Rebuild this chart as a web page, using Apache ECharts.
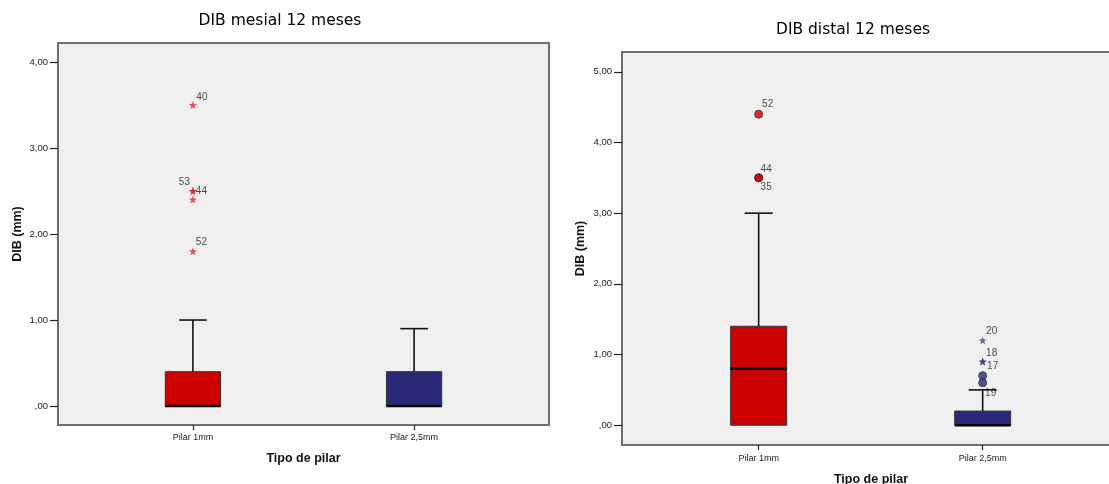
<!DOCTYPE html>
<html>
<head>
<meta charset="utf-8">
<script src="https://cdn.jsdelivr.net/npm/echarts@6/dist/echarts.min.js"></script>
<style>
  html, body { margin: 0; padding: 0; background: #ffffff; }
  #chart { width: 1109px; height: 484px; }
</style>
</head>
<body>
<div id="chart"></div>
<script>
// Abutment types on the category axis
const categories = ['Pilar 1mm', 'Pilar 2,5mm'];
const boxColors = ['#cc0000', '#292977'];

// Five-number summaries per abutment: [min, Q1, median, Q3, max]
const mesialStats = [[0, 0, 0, 0.4, 1.0], [0, 0, 0, 0.4, 0.9]];
const distalStats = [[0, 0, 0.8, 1.4, 3.0], [0, 0, 0, 0.2, 0.5]];

// Individual cases beyond the whiskers: [category index, value, case id]
const mesialExtremes = [[0, 3.5, '40'], [0, 2.5, '53'], [0, 2.5, '44'], [0, 2.4, ''], [0, 1.8, '52']];
const distalOutliers = [[0, 4.4, '52'], [0, 3.5, '44'], [0, 3.5, '35'], [1, 0.7, ''], [1, 0.6, '19']];
const distalExtremes = [[1, 1.2, '20'], [1, 0.9, '18'], [1, 0.9, '17']];

// Y tick values
const mesialTicks = [0, 1, 2, 3, 4];
const distalTicks = [0, 1, 2, 3, 4, 5];

// Where each case id label sits relative to its marker
const mesialLabelOffset = { '40': [9, -8], '53': [-8.5, -8.5], '44': [8.5, 0.5], '52': [8.5, -8.5] };
const distalCircleOffset = { '52': [9, -10], '44': [7.5, -9], '35': [7.5, 9.5], '19': [8, 10.5] };
const distalStarOffset = { '20': [9, -9.5], '18': [9, -8.5], '17': [10, 4.5] };

const STAR = 'path://M0,-10 L2.35,-3.24 L9.51,-3.09 L3.8,1.24 L5.88,8.09 L0,4 L-5.88,8.09 L-3.8,1.24 L-9.51,-3.09 L-2.35,-3.24 Z';
const FONT = 'Liberation Sans, Arial, sans-serif';

const fmtComma = v => (v === 0 ? ',00' : v.toFixed(2).replace('.', ','));

function renderBox(params, api) {
  const x = api.value(0);
  const mn = api.value(1), q1 = api.value(2), md = api.value(3), q3 = api.value(4), mx = api.value(5);
  const w = api.size([0.25, 0])[0];
  const cx = api.coord([x, 0])[0];
  const y = v => api.coord([x, v])[1];
  const lineStyle = { stroke: '#111', lineWidth: 1.6 };
  const children = [];
  if (mx > q3) {
    children.push({ type: 'line', shape: { x1: cx, y1: y(q3), x2: cx, y2: y(mx) }, style: lineStyle });
    children.push({ type: 'line', shape: { x1: cx - w / 4, y1: y(mx), x2: cx + w / 4, y2: y(mx) }, style: lineStyle });
  }
  if (mn < q1) {
    children.push({ type: 'line', shape: { x1: cx, y1: y(q1), x2: cx, y2: y(mn) }, style: lineStyle });
    children.push({ type: 'line', shape: { x1: cx - w / 4, y1: y(mn), x2: cx + w / 4, y2: y(mn) }, style: lineStyle });
  }
  children.push({
    type: 'rect',
    shape: { x: cx - w / 2, y: y(q3), width: w, height: y(q1) - y(q3) },
    style: { fill: boxColors[params.dataIndex], stroke: '#333', lineWidth: 1 }
  });
  children.push({
    type: 'line',
    shape: { x1: cx - w / 2, y1: y(md), x2: cx + w / 2, y2: y(md) },
    style: { stroke: '#000', lineWidth: 2.5 }
  });
  return { type: 'group', children };
}

function pointData(rows, offsets) {
  return rows.map(r => ({
    value: [r[0], r[1]],
    name: r[2],
    label: { offset: offsets[r[2]] || [0, 0] }
  }));
}

function xAxisFor(gridIndex, maxV, margin, nameGap) {
  return {
    type: 'value', gridIndex, min: -0.61, max: maxV,
    name: 'Tipo de pilar', nameLocation: 'middle', nameGap,
    nameTextStyle: { fontFamily: FONT, fontWeight: 'bold', fontSize: 12.5, color: '#111' },
    axisLine: { show: false, onZero: false },
    splitLine: { show: false },
    axisTick: { show: true, length: 5, customValues: [0, 1], lineStyle: { color: '#222', width: 1.2 } },
    axisLabel: {
      customValues: [0, 1], margin, fontFamily: FONT, fontSize: 9, color: '#222',
      formatter: v => categories[Math.round(v)]
    }
  };
}

function yAxisFor(gridIndex, minV, maxV, ticks, nameGap) {
  return {
    type: 'value', gridIndex, min: minV, max: maxV,
    name: 'DIB (mm)', nameLocation: 'middle', nameGap,
    nameTextStyle: { fontFamily: FONT, fontWeight: 'bold', fontSize: 12.5, color: '#111' },
    axisLine: { show: false, onZero: false },
    splitLine: { show: false },
    axisTick: { show: true, length: 8, customValues: ticks, lineStyle: { color: '#222', width: 1.2 } },
    axisLabel: { customValues: ticks, margin: 10, fontFamily: FONT, fontSize: 9.5, color: '#222', formatter: fmtComma }
  };
}

const labelBase = {
  show: true, position: 'inside', formatter: p => p.name,
  fontFamily: FONT, fontSize: 10, color: '#222', align: 'center', verticalAlign: 'middle'
};

const titleStyle = { fontFamily: 'DejaVu Sans, sans-serif', fontWeight: 'normal', fontSize: 15.5, color: '#000' };

const option = {
  backgroundColor: '#ffffff',
  animation: false,
  title: [
    { text: 'DIB mesial 12 meses', left: 275, top: 8, textAlign: 'center', textStyle: titleStyle },
    { text: 'DIB distal 12 meses', left: 848, top: 17, textAlign: 'center', textStyle: titleStyle }
  ],
  grid: [
    { left: 58, top: 43, width: 491, height: 382, outerBoundsMode: 'none', containLabel: false,
      show: true, backgroundColor: '#f0f0f0', borderColor: '#6f6f6f', borderWidth: 2 },
    { left: 622, top: 52, width: 498, height: 393, outerBoundsMode: 'none', containLabel: false,
      show: true, backgroundColor: '#f0f0f0', borderColor: '#6f6f6f', borderWidth: 2 }
  ],
  xAxis: [xAxisFor(0, 1.61, 8, 27), xAxisFor(1, 1.613, 9, 28)],
  yAxis: [yAxisFor(0, -0.22, 4.22, mesialTicks, 34), yAxisFor(1, -0.28, 5.28, distalTicks, 35)],
  series: [
    {
      type: 'custom', xAxisIndex: 0, yAxisIndex: 0,
      data: mesialStats.map((s, i) => [i].concat(s)),
      encode: { x: 0, y: [1, 2, 3, 4, 5] },
      renderItem: renderBox, z: 2
    },
    {
      type: 'custom', xAxisIndex: 1, yAxisIndex: 1,
      data: distalStats.map((s, i) => [i].concat(s)),
      encode: { x: 0, y: [1, 2, 3, 4, 5] },
      renderItem: renderBox, z: 2
    },
    {
      type: 'scatter', xAxisIndex: 0, yAxisIndex: 0,
      symbol: STAR, symbolSize: 8,
      itemStyle: { color: '#e3232b' },
      label: labelBase,
      data: pointData(mesialExtremes, mesialLabelOffset), z: 5
    },
    {
      type: 'scatter', xAxisIndex: 1, yAxisIndex: 1,
      symbol: 'circle', symbolSize: 8,
      itemStyle: { color: (p) => boxColors[p.value[0]], borderColor: '#333', borderWidth: 1 },
      label: labelBase,
      data: pointData(distalOutliers, distalCircleOffset), z: 5
    },
    {
      type: 'scatter', xAxisIndex: 1, yAxisIndex: 1,
      symbol: STAR, symbolSize: 8,
      itemStyle: { color: '#3a3a8c' },
      label: labelBase,
      data: pointData(distalExtremes, distalStarOffset), z: 5
    }
  ]
};

const chart = echarts.init(document.getElementById('chart'), null, { renderer: 'canvas' });
chart.setOption(option);
</script>
</body>
</html>
